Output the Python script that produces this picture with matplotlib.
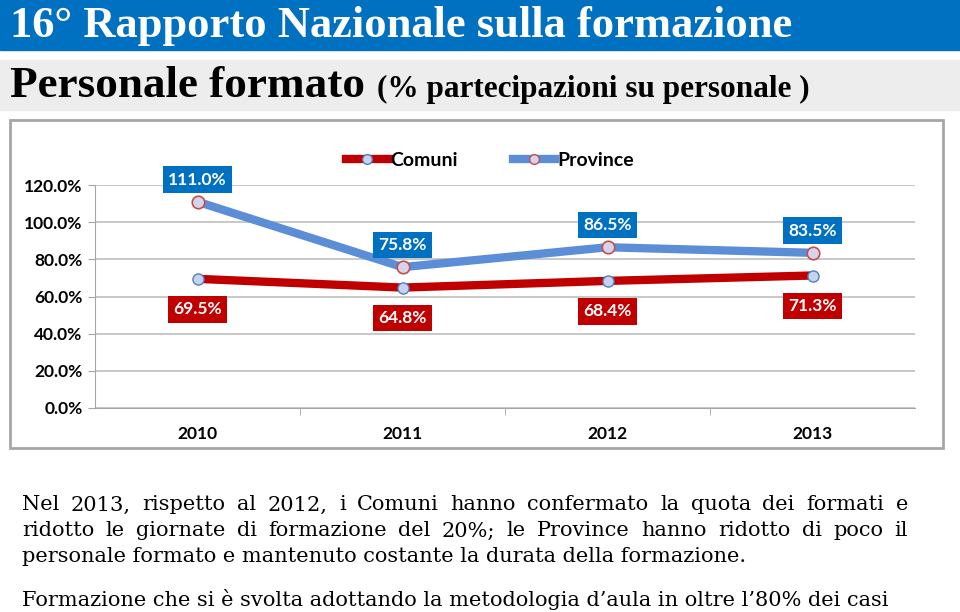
import matplotlib.pyplot as plt
from matplotlib.patches import Rectangle
from matplotlib.lines import Line2D

years = ['2010', '2011', '2012', '2013']
comuni = [69.5, 64.8, 68.4, 71.3]
province = [111.0, 75.8, 86.5, 83.5]
yticks = [0, 20, 40, 60, 80, 100, 120]

title = '16° Rapporto Nazionale sulla formazione'
subtitle = 'Personale formato'
subtitle2 = '(% partecipazioni su personale )'
body = [
    'Nel 2013, rispetto al 2012, i Comuni hanno confermato la quota dei formati e',
    'ridotto le giornate di formazione del 20%; le Province hanno ridotto di poco il',
    'personale formato e mantenuto costante la durata della formazione.',
    'Formazione che si è svolta adottando la metodologia d\u2019aula in oltre l\u201980% dei casi',
]

W, H = 960, 612
red = '#C00000'
blue = '#5B8ED6'
dark_blue = '#0070C0'

fig = plt.figure(figsize=(W / 100, H / 100), dpi=100)


def fx(x):
    return x / W


def fy(y):
    return 1 - y / H


# header bands
fig.patches.append(Rectangle((0, fy(50)), 1, 50 / H, transform=fig.transFigure,
                             color=dark_blue, zorder=0))
fig.patches.append(Rectangle((0, fy(110)), 1, 50 / H, transform=fig.transFigure,
                             color='#EDEDED', zorder=0))
fig.text(fx(10), fy(26), title, color='white', fontsize=32, fontweight='bold',
         family='Liberation Serif', va='center', ha='left')
t = fig.text(fx(10), fy(86), subtitle, color='black', fontsize=32.5, fontweight='bold',
             family='Liberation Serif', va='center', ha='left')
fig.canvas.draw()
bb = t.get_window_extent()
fig.text((bb.x1 + 12) / W, fy(89), subtitle2, color='black', fontsize=22.5,
         fontweight='bold', family='Liberation Serif', va='center', ha='left')

# chart border
fig.patches.append(Rectangle((fx(10), fy(448)), fx(943 - 10), (448 - 120) / H,
                             transform=fig.transFigure, fill=False,
                             edgecolor='#A6A6A6', lw=2, zorder=0))

ax = fig.add_axes([fx(95), fy(408), fx(915 - 95), (408 - 185) / H])
x = range(len(years))
ax.plot(x, comuni, color=red, lw=6, solid_capstyle='round', zorder=3,
        marker='o', ms=8, mfc='#C5D3EE', mec='#4F81BD', mew=1)
ax.plot(x, province, color=blue, lw=6, solid_capstyle='round', zorder=3,
        marker='o', ms=9, mfc='#D9D3EA', mec='#C0504D', mew=1.2)

for i, v in enumerate(comuni):
    ax.annotate(f'{v:.1f}%', (i, v), xytext=(0, -22), textcoords='offset points',
                ha='center', va='center', color='white', fontsize=12.5,
                fontweight='bold', family='Lato',
                bbox=dict(boxstyle='square,pad=0.3', fc=red, ec='none'), zorder=4)
for i, v in enumerate(province):
    ax.annotate(f'{v:.1f}%', (i, v), xytext=(0, 16), textcoords='offset points',
                ha='center', va='center', color='white', fontsize=12.5,
                fontweight='bold', family='Lato',
                bbox=dict(boxstyle='square,pad=0.3', fc=dark_blue, ec='none'), zorder=4)

ax.set_xlim(-0.5, 3.5)
ax.set_ylim(0, 120)
ax.set_yticks(yticks)
ax.set_yticklabels([f'{v:.1f}%' for v in yticks])
ax.set_xticks(list(x))
ax.set_xticklabels(years)
ax.set_xticks([0.5, 1.5, 2.5], minor=True)
ax.tick_params(axis='x', which='major', length=0, pad=13)
ax.tick_params(axis='x', which='minor', length=5, color='#A6A6A6', direction='out')
ax.tick_params(axis='y', length=5, color='#A6A6A6', pad=4)
for lab in ax.get_xticklabels() + ax.get_yticklabels():
    lab.set_fontweight('bold')
    lab.set_family('Lato')
    lab.set_fontsize(12.5)
ax.grid(axis='y', color='#BFBFBF', lw=1.2)
ax.set_axisbelow(True)
for s in ['top', 'right']:
    ax.spines[s].set_visible(False)
ax.spines['left'].set_color('#A6A6A6')
ax.spines['bottom'].set_color('#A6A6A6')

handles = [
    Line2D([], [], color=red, lw=6, marker='o', ms=7, mfc='#C5D3EE', mec='#4F81BD'),
    Line2D([], [], color=blue, lw=6, marker='o', ms=7, mfc='#D9D3EA', mec='#C0504D'),
]
fig.legend(handles, ['Comuni', 'Province'], loc='center', ncol=2,
           bbox_to_anchor=(fx(490), fy(160)), frameon=False, handlelength=2.2,
           handletextpad=0.1, columnspacing=2.8,
           prop={'family': 'Lato', 'weight': 'bold', 'size': 14})

# body text, justified lines
renderer = fig.canvas.get_renderer()
line_y = [505, 531, 557, 600]
justify = [True, True, False, False]
x0, x1 = 22, 908
for txt, yy, jus in zip(body, line_y, justify):
    if not jus:
        fig.text(fx(x0), fy(yy), txt, fontsize=15, family='DejaVu Serif',
                 va='center', ha='left')
        continue
    words = txt.split(' ')
    items = [fig.text(0, fy(yy), w, fontsize=15, family='DejaVu Serif',
                      va='center', ha='left') for w in words]
    widths = [it.get_window_extent(renderer).width for it in items]
    gap = (x1 - x0 - sum(widths)) / (len(words) - 1)
    pos = x0
    for it, wd in zip(items, widths):
        it.set_x(fx(pos))
        pos += wd + gap

fig.savefig('out.png', dpi=100)
